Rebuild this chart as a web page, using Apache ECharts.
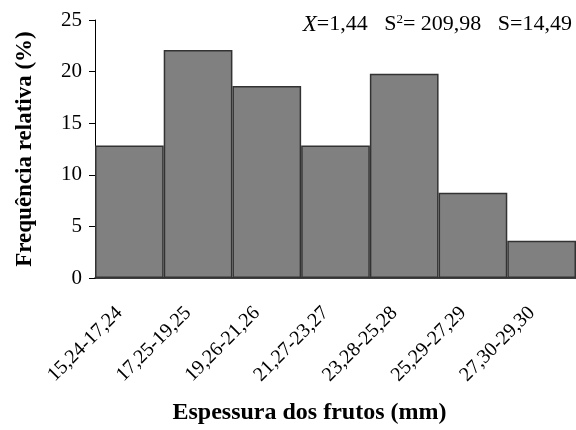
<!DOCTYPE html>
<html>
<head>
<meta charset="utf-8">
<script src="https://cdn.jsdelivr.net/npm/echarts@6/dist/echarts.min.js"></script>
<style>
  html, body { margin: 0; padding: 0; background: #fff; }
  #chart { width: 576px; height: 430px; }
</style>
</head>
<body>
<div id="chart"></div>
<script>
// classes de espessura (mm) e frequencia relativa (%)
const classes = ['15,24-17,24', '17,25-19,25', '19,26-21,26', '21,27-23,27', '23,28-25,28', '25,29-27,29', '27,30-29,30'];
const freqRel = [12.85, 22.1, 18.6, 12.85, 19.8, 8.25, 3.6];
const yTicks = [0, 5, 10, 15, 20, 25];

const serif = '"Liberation Serif", "Times New Roman", serif';

const chart = echarts.init(document.getElementById('chart'));

chart.setOption({
  animation: false,
  grid: { left: 95, top: 20, width: 483, height: 259, containLabel: false },
  xAxis: {
    type: 'category',
    data: classes,
    boundaryGap: true,
    name: 'Espessura dos frutos (mm)',
    nameLocation: 'middle',
    nameGap: 123,
    nameTextStyle: { fontFamily: serif, fontWeight: 'bold', fontSize: 24, color: '#000', padding: [0, 52, 0, 0] },
    axisLine: { lineStyle: { color: '#000', width: 1.5 } },
    axisTick: { alignWithLabel: false, length: 6, lineStyle: { color: '#000' } },
    axisLabel: { rotate: 45, margin: 22, padding: [0, 14, 0, 0], fontFamily: serif, fontSize: 20, color: '#000', interval: 0 },
    splitLine: { show: false }
  },
  yAxis: {
    type: 'value',
    min: yTicks[0],
    max: yTicks[yTicks.length - 1],
    interval: 5,
    name: 'Frequência relativa (%)',
    nameLocation: 'middle',
    nameGap: 58,
    nameTextStyle: { fontFamily: serif, fontWeight: 'bold', fontSize: 23, color: '#000' },
    axisLine: { show: true, lineStyle: { color: '#000', width: 1 } },
    axisTick: { show: true, length: 6, lineStyle: { color: '#000' } },
    axisLabel: { margin: 13, fontFamily: serif, fontSize: 21, color: '#000' },
    splitLine: { show: false }
  },
  series: [{
    type: 'bar',
    data: freqRel,
    barCategoryGap: '0%',
    barGap: '0%',
    itemStyle: { color: '#808080', borderColor: '#333', borderWidth: 1.5 }
  }],
  graphic: [{
    type: 'text',
    right: 4,
    top: 13,
    style: {
      text: '{x|X}=1,44   S{sup|2}= 209,98   S=14,49',
      fontFamily: serif,
      fontSize: 22,
      fill: '#000',
      rich: {
        x: { fontFamily: serif, fontStyle: 'italic', fontSize: 23, fill: '#000' },
        sup: { fontFamily: serif, fontSize: 13, verticalAlign: 'top', padding: [0, 0, 10, 0], fill: '#000' }
      }
    }
  }]
});
</script>
</body>
</html>
